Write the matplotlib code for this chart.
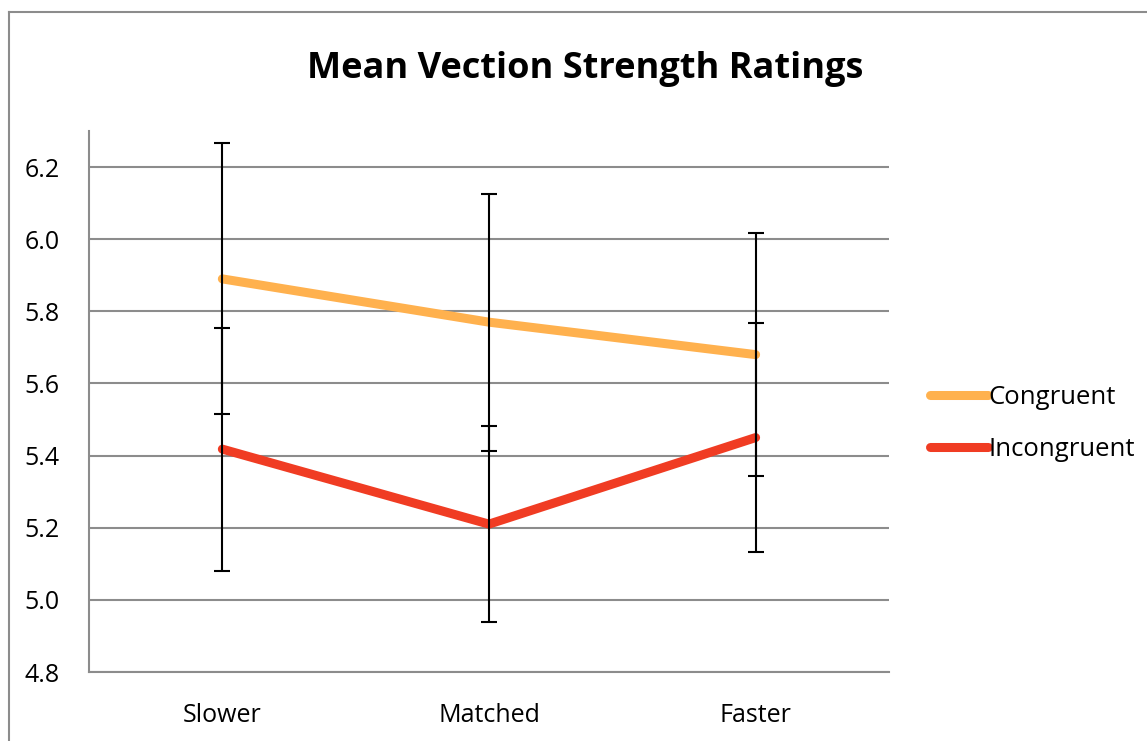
import matplotlib
matplotlib.use("Agg")
import matplotlib.pyplot as plt
from matplotlib.lines import Line2D

plt.rcParams['font.family'] = ['Open Sans', 'DejaVu Sans']

categories = ["Slower", "Matched", "Faster"]
congruent = [5.89, 5.77, 5.68]
congruent_err = [0.376, 0.356, 0.337]
incongruent = [5.418, 5.21, 5.45]
incongruent_err = [0.337, 0.272, 0.318]

c_cong = "#FFB14E"
c_incong = "#F03C23"

fig = plt.figure(figsize=(11.47, 7.41), dpi=100)
ax = fig.add_axes([0.0776, 0.0931, 0.775 - 0.0776, 0.8232 - 0.0931])

x = range(len(categories))
ax.plot(x, congruent, color=c_cong, lw=6.5, solid_capstyle="round", label="Congruent", zorder=3)
ax.plot(x, incongruent, color=c_incong, lw=6.5, solid_capstyle="round", label="Incongruent", zorder=3)
ax.errorbar(x, congruent, yerr=congruent_err, fmt="none", ecolor="black",
            elinewidth=1.5, capsize=6, capthick=1.5, zorder=4)
ax.errorbar(x, incongruent, yerr=incongruent_err, fmt="none", ecolor="black",
            elinewidth=1.5, capsize=6, capthick=1.5, zorder=4)

ax.set_xlim(-0.5, 2.5)
ax.set_ylim(4.8, 6.3)
ax.set_yticks([4.8, 5.0, 5.2, 5.4, 5.6, 5.8, 6.0, 6.2])
ax.set_yticklabels(["4.8", "5.0", "5.2", "5.4", "5.6", "5.8", "6.0", "6.2"])
ax.set_xticks(list(x))
ax.set_xticklabels(categories)
ax.tick_params(axis="both", length=0, labelsize=18)
ax.tick_params(axis="x", pad=22)
ax.tick_params(axis="y", pad=21)
ax.yaxis.grid(True, color="#8c8c8c", lw=1.5)
ax.set_axisbelow(True)
for s in ["top", "right"]:
    ax.spines[s].set_visible(False)
for s in ["left", "bottom"]:
    ax.spines[s].set_color("#8c8c8c")
    ax.spines[s].set_linewidth(1.5)

fig.text(0.51, 0.907, "Mean Vection Strength Ratings", ha="center", va="center",
         fontsize=26, fontweight="bold")

leg = fig.legend(loc="center left", bbox_to_anchor=(0.791, 0.428), frameon=False,
                 fontsize=18.5, handlelength=2.26, handletextpad=0.0, labelspacing=1.05)
for h in leg.get_lines():
    h.set_solid_capstyle("round")

# outer frame
fig.add_artist(Line2D([8.5 / 1147, 8.5 / 1147], [0, 1 - 11.5 / 741], transform=fig.transFigure,
                      color="#8c8c8c", lw=1.5))
fig.add_artist(Line2D([8.5 / 1147, 1], [1 - 11.5 / 741, 1 - 11.5 / 741], transform=fig.transFigure,
                      color="#8c8c8c", lw=1.5))

fig.savefig("out.png", dpi=100)
